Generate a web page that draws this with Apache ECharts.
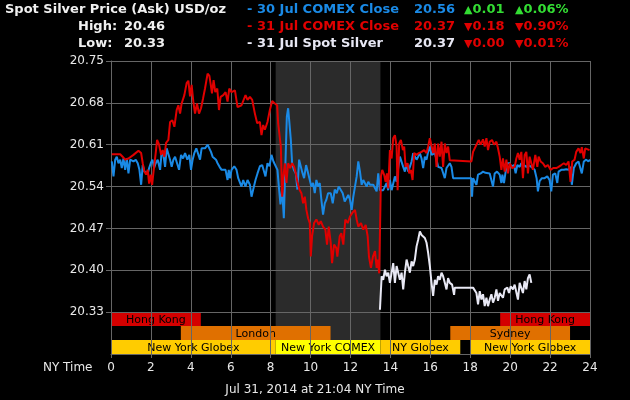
<!DOCTYPE html>
<html>
<head>
<meta charset="utf-8">
<script src="https://cdn.jsdelivr.net/npm/echarts@6/dist/echarts.min.js"></script>
<style>
  html, body { margin: 0; padding: 0; background: #000; }
  #chart { width: 630px; height: 400px; }
</style>
</head>
<body>
<div id="chart"></div>
<script>
// 30 Jul COMEX close (blue) - [NY hour, price]
const blueData = [
  [0.04, 20.582], [0.125, 20.557], [0.21, 20.585], [0.29, 20.590], [0.375, 20.579], [0.46, 20.585],
  [0.54, 20.571], [0.625, 20.587], [0.71, 20.568], [0.79, 20.587], [0.875, 20.562], [0.96, 20.585],
  [1.04, 20.587], [1.125, 20.582], [1.24, 20.585], [1.34, 20.579], [1.425, 20.568], [1.51, 20.543],
  [1.59, 20.576], [1.675, 20.565], [1.76, 20.568], [1.84, 20.562], [1.91, 20.571], [1.99, 20.579],
  [2.075, 20.585], [2.16, 20.571], [2.24, 20.579], [2.34, 20.585], [2.46, 20.568], [2.54, 20.598],
  [2.625, 20.593], [2.71, 20.573], [2.79, 20.604], [2.875, 20.601], [2.96, 20.585], [3.04, 20.573],
  [3.125, 20.585], [3.21, 20.590], [3.29, 20.587], [3.41, 20.568], [3.51, 20.593], [3.61, 20.587],
  [3.71, 20.596], [3.825, 20.585], [3.925, 20.593], [4.01, 20.568], [4.09, 20.585], [4.175, 20.596],
  [4.275, 20.604], [4.375, 20.601], [4.46, 20.585], [4.54, 20.604], [4.625, 20.606], [4.71, 20.604],
  [4.84, 20.610], [4.925, 20.607], [5.01, 20.598], [5.09, 20.590], [5.175, 20.593], [5.26, 20.585],
  [5.34, 20.579], [5.44, 20.573], [5.54, 20.568], [5.625, 20.565], [5.74, 20.568], [5.84, 20.551],
  [5.9, 20.568], [5.96, 20.554], [6.04, 20.568], [6.175, 20.574], [6.29, 20.568], [6.375, 20.554],
  [6.46, 20.551], [6.54, 20.540], [6.625, 20.551], [6.74, 20.540], [6.84, 20.551], [6.96, 20.543],
  [7.04, 20.523], [7.125, 20.535], [7.24, 20.551], [7.34, 20.562], [7.46, 20.574], [7.575, 20.576],
  [7.675, 20.579], [7.74, 20.557], [7.84, 20.579], [7.94, 20.574], [8.04, 20.593], [8.14, 20.582],
  [8.24, 20.582], [8.34, 20.568], [8.41, 20.540], [8.49, 20.510], [8.575, 20.535], [8.66, 20.487],
  [8.74, 20.579], [8.81, 20.657], [8.875, 20.671], [8.94, 20.646], [9.01, 20.618], [9.075, 20.579],
  [9.16, 20.568], [9.26, 20.562], [9.34, 20.535], [9.425, 20.585], [9.51, 20.587], [9.575, 20.565],
  [9.675, 20.554], [9.775, 20.576], [9.875, 20.574], [9.96, 20.551], [10.04, 20.540], [10.125, 20.546],
  [10.21, 20.529], [10.29, 20.551], [10.375, 20.540], [10.46, 20.546], [10.54, 20.518], [10.625, 20.493],
  [10.71, 20.512], [10.79, 20.518], [10.875, 20.529], [11.01, 20.529], [11.11, 20.512], [11.21, 20.535],
  [11.31, 20.529], [11.41, 20.540], [11.51, 20.540], [11.61, 20.529], [11.71, 20.515], [11.81, 20.515],
  [11.89, 20.526], [11.975, 20.518], [12.06, 20.501], [12.14, 20.523], [12.225, 20.540], [12.31, 20.557],
  [12.39, 20.582], [12.475, 20.565], [12.56, 20.543], [12.64, 20.551], [12.725, 20.548], [12.81, 20.540],
  [12.89, 20.548], [12.975, 20.543], [13.06, 20.546], [13.14, 20.543], [13.225, 20.540], [13.31, 20.532],
  [13.39, 20.562], [13.475, 20.534], [13.56, 20.537], [13.64, 20.534], [13.725, 20.534], [13.81, 20.546],
  [13.89, 20.534], [13.975, 20.551], [14.06, 20.534], [14.14, 20.532], [14.225, 20.557], [14.31, 20.548],
  [14.39, 20.571], [14.475, 20.590], [14.56, 20.587], [14.64, 20.573], [14.725, 20.565], [14.81, 20.579],
  [14.89, 20.565], [14.975, 20.573], [15.06, 20.582], [15.14, 20.596], [15.225, 20.598], [15.31, 20.585],
  [15.39, 20.590], [15.475, 20.596], [15.56, 20.587], [15.64, 20.571], [15.725, 20.590], [15.81, 20.585],
  [15.89, 20.598], [15.975, 20.607], [16.06, 20.593], [16.14, 20.590], [16.225, 20.596], [16.31, 20.585],
  [16.39, 20.573], [16.475, 20.576], [16.56, 20.571], [16.64, 20.568], [16.725, 20.554], [16.81, 20.571],
  [16.89, 20.568], [16.975, 20.579], [17.06, 20.573], [17.14, 20.554], [18.06, 20.554], [18.09, 20.523],
  [18.14, 20.554], [18.225, 20.557], [18.31, 20.543], [18.39, 20.560], [18.525, 20.562], [18.64, 20.565],
  [18.76, 20.563], [18.86, 20.565], [18.975, 20.562], [19.06, 20.565], [19.14, 20.540], [19.225, 20.562],
  [19.34, 20.565], [19.475, 20.560], [19.56, 20.546], [19.61, 20.560], [19.69, 20.546], [19.76, 20.562],
  [19.86, 20.579], [19.975, 20.579], [20.06, 20.573], [20.19, 20.576], [20.275, 20.562], [20.36, 20.576],
  [20.475, 20.573], [20.56, 20.579], [20.69, 20.576], [20.81, 20.573], [20.925, 20.576], [21.06, 20.573],
  [21.225, 20.568], [21.325, 20.554], [21.39, 20.532], [21.475, 20.549], [21.59, 20.554], [21.725, 20.554],
  [21.86, 20.557], [21.975, 20.551], [22.06, 20.532], [22.14, 20.560], [22.26, 20.562], [22.36, 20.546],
  [22.425, 20.565], [22.56, 20.568], [22.69, 20.568], [22.81, 20.569], [22.925, 20.568], [23.025, 20.573],
  [23.09, 20.543], [23.19, 20.571], [23.31, 20.579], [23.425, 20.582], [23.525, 20.579], [23.59, 20.562],
  [23.69, 20.582], [23.81, 20.585], [23.925, 20.582], [24.0, 20.585]
]

// 31 Jul COMEX close (red)
const redData = [
  [0.04, 20.594], [0.46, 20.594], [0.58, 20.590], [0.71, 20.585], [0.875, 20.587], [1.125, 20.593],
  [1.375, 20.600], [1.51, 20.596], [1.59, 20.579], [1.675, 20.565], [1.76, 20.560], [1.84, 20.568],
  [1.91, 20.545], [1.99, 20.560], [2.06, 20.543], [2.14, 20.568], [2.24, 20.596], [2.31, 20.618],
  [2.41, 20.610], [2.51, 20.593], [2.59, 20.601], [2.675, 20.590], [2.76, 20.613], [2.875, 20.618],
  [2.96, 20.648], [3.075, 20.651], [3.175, 20.640], [3.29, 20.668], [3.375, 20.676], [3.46, 20.662],
  [3.54, 20.679], [3.675, 20.693], [3.79, 20.713], [3.875, 20.717], [3.96, 20.691], [4.04, 20.710],
  [4.125, 20.682], [4.21, 20.662], [4.31, 20.679], [4.41, 20.662], [4.51, 20.671], [4.61, 20.687],
  [4.71, 20.704], [4.84, 20.729], [4.93, 20.725], [4.99, 20.712], [5.06, 20.696], [5.14, 20.718],
  [5.225, 20.698], [5.325, 20.704], [5.41, 20.668], [5.49, 20.690], [5.625, 20.693], [5.74, 20.698],
  [5.84, 20.682], [5.925, 20.704], [6.04, 20.698], [6.21, 20.701], [6.34, 20.673], [6.54, 20.676],
  [6.74, 20.693], [6.84, 20.685], [6.96, 20.690], [7.075, 20.685], [7.21, 20.662], [7.325, 20.646],
  [7.46, 20.648], [7.54, 20.626], [7.625, 20.643], [7.71, 20.635], [7.84, 20.648], [7.96, 20.668],
  [8.075, 20.683], [8.21, 20.679], [8.325, 20.676], [8.375, 20.646], [8.46, 20.648], [8.51, 20.607],
  [8.575, 20.523], [8.64, 20.557], [8.71, 20.579], [8.79, 20.546], [8.875, 20.579], [8.975, 20.571],
  [9.075, 20.579], [9.175, 20.573], [9.26, 20.562], [9.34, 20.548], [9.44, 20.535], [9.54, 20.529],
  [9.625, 20.512], [9.71, 20.523], [9.79, 20.501], [9.875, 20.487], [9.96, 20.479], [10.01, 20.423],
  [10.075, 20.457], [10.175, 20.479], [10.29, 20.485], [10.41, 20.476], [10.51, 20.482], [10.625, 20.473],
  [10.74, 20.468], [10.825, 20.443], [10.91, 20.473], [11.01, 20.446], [11.075, 20.412], [11.175, 20.443],
  [11.29, 20.437], [11.34, 20.423], [11.46, 20.457], [11.54, 20.462], [11.64, 20.443], [11.74, 20.485],
  [11.86, 20.479], [11.975, 20.490], [12.09, 20.496], [12.225, 20.501], [12.31, 20.485], [12.39, 20.473],
  [12.525, 20.479], [12.64, 20.468], [12.76, 20.476], [12.86, 20.457], [12.925, 20.423], [13.025, 20.404],
  [13.125, 20.423], [13.225, 20.432], [13.31, 20.404], [13.36, 20.418], [13.44, 20.395], [13.525, 20.557],
  [13.59, 20.568], [13.69, 20.559], [13.76, 20.548], [13.825, 20.562], [13.89, 20.537], [13.975, 20.601],
  [14.06, 20.587], [14.14, 20.621], [14.225, 20.626], [14.31, 20.607], [14.36, 20.534], [14.44, 20.612],
  [14.525, 20.618], [14.625, 20.601], [14.69, 20.607], [14.76, 20.573], [14.86, 20.579], [14.94, 20.562],
  [15.025, 20.568], [15.11, 20.551], [15.19, 20.596], [15.31, 20.593], [15.425, 20.596], [15.56, 20.598],
  [15.69, 20.601], [15.81, 20.596], [15.89, 20.607], [15.975, 20.621], [16.06, 20.624], [16.14, 20.596],
  [16.225, 20.612], [16.31, 20.573], [16.39, 20.612], [16.475, 20.590], [16.56, 20.615], [16.64, 20.573],
  [16.725, 20.612], [16.81, 20.596], [16.89, 20.607], [16.975, 20.584], [17.06, 20.582], [18.06, 20.582],
  [18.14, 20.598], [18.31, 20.610], [18.425, 20.618], [18.525, 20.610], [18.64, 20.619], [18.725, 20.607],
  [18.81, 20.621], [18.89, 20.601], [18.975, 20.615], [19.09, 20.618], [19.19, 20.610], [19.31, 20.615],
  [19.39, 20.604], [19.475, 20.590], [19.56, 20.568], [19.64, 20.587], [19.725, 20.565], [19.81, 20.585],
  [19.89, 20.562], [19.975, 20.579], [20.09, 20.571], [20.225, 20.573], [20.31, 20.587], [20.39, 20.596],
  [20.475, 20.585], [20.56, 20.598], [20.64, 20.554], [20.725, 20.593], [20.81, 20.598], [20.89, 20.562],
  [20.975, 20.590], [21.06, 20.579], [21.14, 20.568], [21.26, 20.593], [21.36, 20.573], [21.425, 20.590],
  [21.525, 20.582], [21.64, 20.579], [21.76, 20.573], [21.89, 20.576], [22.025, 20.568], [22.16, 20.571],
  [22.31, 20.571], [22.425, 20.573], [22.56, 20.576], [22.69, 20.579], [22.81, 20.576], [22.925, 20.582],
  [23.025, 20.548], [23.11, 20.582], [23.225, 20.585], [23.31, 20.598], [23.425, 20.604], [23.525, 20.596],
  [23.59, 20.606], [23.69, 20.587], [23.76, 20.604], [23.86, 20.606], [23.975, 20.601]
]

// 31 Jul spot silver (white)
const spotData = [
  [13.475, 20.334], [13.56, 20.390], [13.64, 20.384], [13.725, 20.401], [13.81, 20.390], [13.89, 20.396],
  [13.975, 20.379], [14.06, 20.396], [14.14, 20.412], [14.225, 20.379], [14.31, 20.407], [14.39, 20.396],
  [14.475, 20.384], [14.56, 20.396], [14.64, 20.368], [14.725, 20.396], [14.81, 20.418], [14.89, 20.407],
  [14.975, 20.396], [15.06, 20.415], [15.14, 20.407], [15.225, 20.418], [15.31, 20.440], [15.39, 20.451],
  [15.475, 20.465], [15.56, 20.459], [15.64, 20.462], [15.725, 20.454], [15.81, 20.446], [15.89, 20.429],
  [15.975, 20.407], [16.06, 20.379], [16.14, 20.357], [16.225, 20.384], [16.31, 20.376], [16.39, 20.390],
  [16.475, 20.384], [16.56, 20.396], [16.64, 20.390], [16.725, 20.379], [16.81, 20.368], [16.89, 20.387],
  [16.975, 20.379], [17.09, 20.376], [17.19, 20.359], [17.225, 20.371], [18.14, 20.371], [18.225, 20.368],
  [18.31, 20.362], [18.39, 20.343], [18.475, 20.365], [18.56, 20.351], [18.64, 20.360], [18.725, 20.340],
  [18.81, 20.354], [18.89, 20.340], [18.975, 20.351], [19.06, 20.360], [19.14, 20.346], [19.225, 20.354],
  [19.31, 20.368], [19.39, 20.349], [19.475, 20.362], [19.56, 20.365], [19.64, 20.354], [19.725, 20.368],
  [19.86, 20.371], [19.94, 20.362], [20.025, 20.373], [20.14, 20.368], [20.225, 20.376], [20.31, 20.373],
  [20.39, 20.351], [20.475, 20.379], [20.56, 20.382], [20.64, 20.362], [20.725, 20.382], [20.81, 20.368],
  [20.89, 20.387], [20.975, 20.393], [21.06, 20.379]
]

// trading sessions drawn in the band under the price lines
const sessionNames = ['Hong Kong', 'London', 'New York Globex', 'New York COMEX', 'NY Globex', 'Sydney', 'Hong Kong', 'New York Globex']
const sessionStart = [0, 3.5, 0, 8.25, 13.5, 17, 19.5, 18]
const sessionEnd = [4.5, 11, 8.25, 13.5, 17.5, 23, 24, 24]
const sessionRow = [0, 1, 2, 2, 2, 1, 0, 2]
const comexHours = [8.25, 13.5]

const legendLabels = ['30 Jul COMEX Close', '31 Jul COMEX Close', '31 Jul Spot Silver']
const legendPrices = ['20.56', '20.37', '20.37']
const legendChanges = ['0.01', '0.18', '0.00']
const legendPercents = ['0.06%', '0.90%', '0.01%']
const legendUp = [true, false, false]
const highLow = [['High:', '20.46'], ['Low:', '20.33']]

const yMin = 20.26
const yMax = 20.75
const bandTop = 20.33
const rowH = (bandTop - yMin) / 3

const BLUE = '#1a8ae6'
const RED = '#e00000'
const WHITE = '#e8e8f4'
const GREEN = '#33dd33'
const GRID = '#666666'
const font = '"DejaVu Sans", Verdana, sans-serif'
const headFont = 'bold 13px ' + font
const sessionColors = {
  'Hong Kong': '#d40000',
  'London': '#e07000',
  'Sydney': '#e07000',
  'New York Globex': '#ffcc00',
  'NY Globex': '#ffcc00',
  'New York COMEX': '#ffff00'
}

const lineColors = [BLUE, RED, WHITE]
const header = [
  { type: 'text', x: 5, y: 10, style: { text: 'Spot Silver Price (Ask) USD/oz', fill: '#f0f0f0', font: headFont, verticalAlign: 'middle' } }
]
highLow.forEach((r, i) => {
  const y = 27 + i * 17
  header.push({ type: 'text', x: 78, y, style: { text: r[0], fill: '#f0f0f0', font: headFont, verticalAlign: 'middle' } })
  header.push({ type: 'text', x: 124, y, style: { text: r[1], fill: '#f0f0f0', font: headFont, verticalAlign: 'middle' } })
})
legendLabels.forEach((lab, i) => {
  const y = 10 + i * 17
  const chg = legendUp[i] ? GREEN : RED
  const tri = legendUp[i] ? '▲' : '▼'
  const rich = { t: { font: '11px ' + font, fill: chg } }
  header.push({ type: 'text', x: 247, y, style: { text: '- ' + lab, fill: lineColors[i], font: headFont, verticalAlign: 'middle' } })
  header.push({ type: 'text', x: 414, y, style: { text: legendPrices[i], fill: lineColors[i], font: headFont, verticalAlign: 'middle' } })
  header.push({ type: 'text', x: 464, y, style: { text: '{t|' + tri + '}' + legendChanges[i], fill: chg, font: headFont, verticalAlign: 'middle', rich } })
  header.push({ type: 'text', x: 515, y, style: { text: '{t|' + tri + '}' + legendPercents[i], fill: chg, font: headFont, verticalAlign: 'middle', rich } })
})
header.push({ type: 'text', x: 43, y: 368, style: { text: 'NY Time', fill: '#e8e8e8', font: '12px ' + font, verticalAlign: 'middle' } })
header.push({ type: 'text', x: 315, y: 390, style: { text: 'Jul 31, 2014 at 21:04 NY Time', fill: '#e8e8e8', font: '12px ' + font, align: 'center', verticalAlign: 'middle' } })

const chart = echarts.init(document.getElementById('chart'))
chart.setOption({
  backgroundColor: '#000',
  animation: false,
  grid: { left: 111, right: 40, top: 61, bottom: 46 },
  graphic: header,
  xAxis: {
    type: 'value',
    min: 0,
    max: 24,
    interval: 2,
    z: 3,
    axisLine: { show: true, lineStyle: { color: GRID } },
    axisTick: { show: true, length: 4, lineStyle: { color: GRID } },
    axisLabel: { color: '#e8e8e8', fontSize: 12, fontFamily: font, margin: 8 },
    splitLine: { show: true, lineStyle: { color: GRID, width: 1 } }
  },
  yAxis: {
    type: 'value',
    min: yMin,
    max: yMax,
    interval: 0.07,
    z: 3,
    axisLine: { show: true, lineStyle: { color: GRID } },
    axisTick: { show: true, length: 5, lineStyle: { color: GRID } },
    axisLabel: {
      color: '#e8e8e8', fontSize: 12, fontFamily: font, margin: 7, showMinLabel: false,
      formatter: v => v.toFixed(2)
    },
    splitLine: { show: true, lineStyle: { color: GRID, width: 1 } }
  },
  series: [
    {
      type: 'custom',
      z: 1,
      silent: true,
      data: [comexHours],
      encode: { x: [0, 1] },
      renderItem: (params, api) => {
        const a = api.coord([api.value(0), yMax])
        const b = api.coord([api.value(1), bandTop - 2 * rowH])
        return { type: 'rect', shape: { x: a[0], y: a[1], width: b[0] - a[0], height: b[1] - a[1] }, style: { fill: '#2b2b2b' } }
      }
    },
    {
      type: 'custom',
      z: 2,
      silent: true,
      data: sessionNames.map((n, i) => [sessionStart[i], sessionEnd[i], sessionRow[i]]),
      encode: { x: [0, 1] },
      renderItem: (params, api) => {
        const name = sessionNames[params.dataIndex]
        const row = api.value(2)
        const a = api.coord([api.value(0), bandTop - row * rowH])
        const b = api.coord([api.value(1), bandTop - (row + 1) * rowH])
        return {
          type: 'group',
          children: [
            { type: 'rect', shape: { x: a[0], y: a[1], width: b[0] - a[0], height: b[1] - a[1] }, style: { fill: sessionColors[name] } },
            { type: 'text', style: { text: name, x: (a[0] + b[0]) / 2, y: (a[1] + b[1]) / 2 + 1, align: 'center', verticalAlign: 'middle', fill: '#000', font: '11px ' + font } }
          ]
        }
      }
    },
    { type: 'line', z: 5, data: blueData, showSymbol: false, lineStyle: { color: BLUE, width: 2 }, silent: true },
    { type: 'line', z: 6, data: redData, showSymbol: false, lineStyle: { color: RED, width: 2 }, silent: true },
    { type: 'line', z: 7, data: spotData, showSymbol: false, lineStyle: { color: WHITE, width: 2 }, silent: true }
  ]
})
</script>
</body>
</html>
